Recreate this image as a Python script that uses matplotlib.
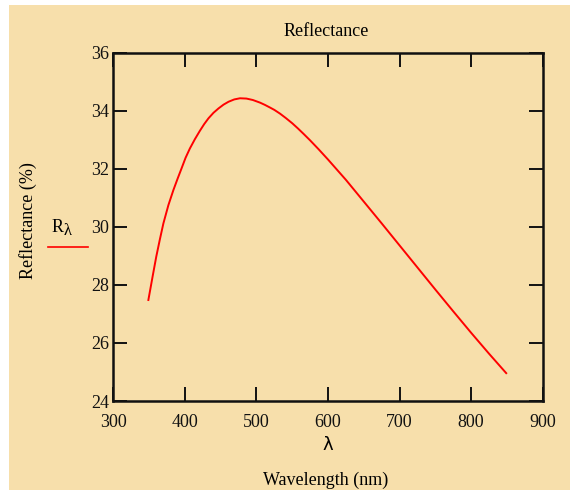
import matplotlib.pyplot as plt
from matplotlib.lines import Line2D
from matplotlib.patches import Rectangle

# ---------------------------- data ----------------------------
wavelength = [349, 355, 360, 365, 370, 377, 384, 390, 395, 401, 407, 414, 421, 427,
              433, 440, 447, 454, 461, 469, 477, 486, 495, 505, 512, 519, 525, 533,
              541, 550, 558, 566, 575, 587, 600, 625, 650, 675, 700, 725, 750, 775,
              800, 825, 849]
reflectance = [27.48, 28.30, 28.97, 29.56, 30.12, 30.75, 31.27, 31.67, 31.99, 32.38,
               32.70, 33.02, 33.31, 33.54, 33.74, 33.93, 34.08, 34.21, 34.31, 34.39,
               34.43, 34.42, 34.37, 34.28, 34.20, 34.11, 34.03, 33.90, 33.75, 33.57,
               33.39, 33.20, 32.98, 32.67, 32.32, 31.62, 30.87, 30.12, 29.36, 28.60,
               27.84, 27.09, 26.35, 25.63, 24.96]

x_ticks = [300, 400, 500, 600, 700, 800, 900]
y_ticks = [24, 26, 28, 30, 32, 34, 36]

# ---------------------------- style ----------------------------
tan = "#F7DFAB"
serif = "Liberation Serif"
fs = 13

plt.rcParams['font.family'] = serif

fig = plt.figure(figsize=(5.7, 4.9), dpi=100, facecolor="white")
# tan panel with small white margin at left / top
fig.patches.append(Rectangle((9 / 570, 0), 1 - 9 / 570, 1 - 5 / 490,
                             transform=fig.transFigure, facecolor=tan,
                             edgecolor="none", zorder=-10))

ax = fig.add_axes([113.3 / 570, 1 - 401 / 490, 429.4 / 570, 348.3 / 490])
ax.set_facecolor(tan)

ax.plot(wavelength, reflectance, color="red", lw=1.4)

ax.set_xlim(300, 900)
ax.set_ylim(24, 36)
ax.set_xticks(x_ticks)
ax.set_yticks(y_ticks)

for s in ax.spines.values():
    s.set_linewidth(1.8)
    s.set_color("#111111")

ax.tick_params(direction="in", length=10, width=1.4, top=True, right=True,
               labelsize=fs, colors="#111111")
ax.tick_params(axis="x", pad=9)
ax.tick_params(axis="y", pad=3)

# title and axis labels
fig.text(326 / 570, 1 - 32 / 490, "Reflectance", ha="center", va="center", fontsize=fs)
fig.text(28 / 570, 1 - 221 / 490, "Reflectance (%)", ha="center", va="center",
         rotation=90, fontsize=fs)
fig.text(328 / 570, 1 - 445 / 490, "λ", ha="center", va="center", fontsize=13,
         family="DejaVu Sans")
fig.text(326 / 570, 1 - 480 / 490, "Wavelength (nm)", ha="center", va="center", fontsize=fs)

# legend entry at the left
fig.text(58 / 570, 1 - 227 / 490, "R", ha="center", va="center", fontsize=fs)
fig.text(68 / 570, 1 - 231 / 490, "λ", ha="center", va="center", fontsize=12)
fig.lines.append(Line2D([48 / 570, 88 / 570], [1 - 247 / 490, 1 - 247 / 490],
                        transform=fig.transFigure, color="red", lw=1.2))

fig.savefig("out.png", dpi=100, facecolor=fig.get_facecolor())
